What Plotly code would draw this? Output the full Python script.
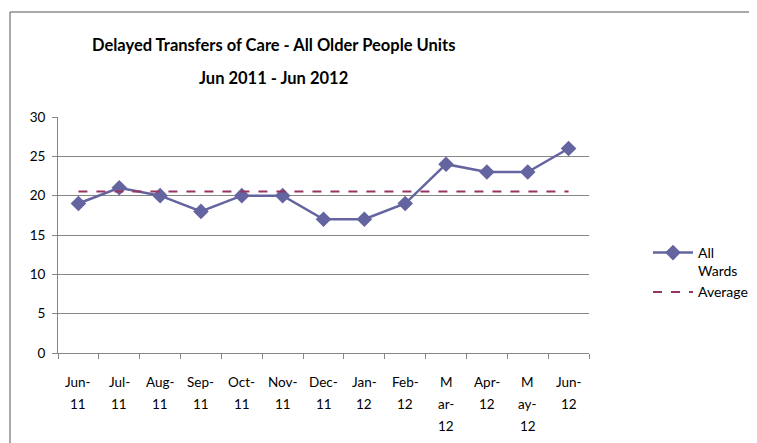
import plotly.graph_objects as go

categories = ["Jun-<br>11", "Jul-<br>11", "Aug-<br>11", "Sep-<br>11", "Oct-<br>11", "Nov-<br>11",
              "Dec-<br>11", "Jan-<br>12", "Feb-<br>12", "M<br>ar-<br>12", "Apr-<br>12", "M<br>ay-<br>12", "Jun-<br>12"]
all_wards = [19, 21, 20, 18, 20, 20, 17, 17, 19, 24, 23, 23, 26]
average_value = 20.54
average = [average_value] * len(categories)
y_ticks = [0, 5, 10, 15, 20, 25, 30]

# the page has an 8px body margin; work in page pixels and convert
OFF = 8
W, H = 757 - OFF, 443 - OFF
PL, PR, PT, PB = 58, 589, 117, 353  # plot area in page pixels
L, R, T, B = PL - OFF, W - (PR - OFF), PT - OFF, H - (PB - OFF)
pw, ph = W - L - R, H - T - B


def px_x(x):
    return (x - OFF - L) / pw


def px_y(y):
    return (H - B - (y - OFF)) / ph


font_family = "Lato, 'Open Sans', sans-serif"
grid = "#868686"

fig = go.Figure()
fig.add_trace(go.Scatter(
    x=categories, y=all_wards, name="All<br>Wards", mode="lines+markers",
    line=dict(color="#6464A0", width=2.5),
    marker=dict(symbol="diamond", size=12, color="#6464A0"),
))
fig.add_trace(go.Scatter(
    x=categories, y=average, name="Average", mode="lines",
    line=dict(color="#983461", width=2, dash="dash"),
))

annotations = [
    dict(text="<b>Delayed Transfers of Care - All Older People Units</b>", xref="paper", yref="paper",
         x=px_x(273), y=px_y(45), xanchor="center", yanchor="middle", showarrow=False,
         font=dict(size=16.5, family=font_family)),
    dict(text="<b>Jun 2011 - Jun 2012</b>", xref="paper", yref="paper",
         x=px_x(273), y=px_y(78), xanchor="center", yanchor="middle", showarrow=False,
         font=dict(size=16.5, family=font_family)),
]
# category labels, wrapped like the original with wide line spacing
for cat in categories:
    for k, part in enumerate(cat.split("<br>")):
        annotations.append(dict(
            text=part, xref="x", yref="paper", x=cat, y=px_y(382 + 22 * k),
            xanchor="center", yanchor="middle", showarrow=False,
            font=dict(size=13.5, family=font_family)))

fig.update_layout(
    width=W, height=H,
    margin=dict(l=L, r=R, t=T, b=B, autoexpand=False),
    paper_bgcolor="white", plot_bgcolor="white",
    font=dict(family=font_family, size=13.5, color="#000000"),
    showlegend=True,
    legend=dict(x=px_x(648), y=px_y(237), xanchor="left", yanchor="top",
                bgcolor="rgba(0,0,0,0)", font=dict(size=14), valign="top",
                tracegroupgap=0, itemwidth=40),
    xaxis=dict(type="category", range=[-0.5, 12.5], showgrid=False,
               showline=True, linecolor=grid, linewidth=1,
               ticks="outside", tickson="boundaries", ticklen=5, tickcolor=grid,
               showticklabels=False, fixedrange=True),
    yaxis=dict(range=[0, 30], tickvals=y_ticks, showgrid=True, gridcolor=grid, gridwidth=1,
               showline=True, linecolor=grid, linewidth=1,
               ticks="outside", ticklen=5, tickcolor=grid, ticklabelstandoff=4,
               tickfont=dict(size=13.5), zeroline=False, fixedrange=True),
    shapes=[
        dict(type="line", xref="paper", yref="paper", x0=px_x(10), x1=px_x(800),
             y0=px_y(12), y1=px_y(12), line=dict(color="#8C8C8C", width=1.5)),
        dict(type="line", xref="paper", yref="paper", x0=px_x(10), x1=px_x(10),
             y0=px_y(12), y1=px_y(460), line=dict(color="#8C8C8C", width=1.5)),
    ],
    annotations=annotations,
)

fig.write_html("out.html")
